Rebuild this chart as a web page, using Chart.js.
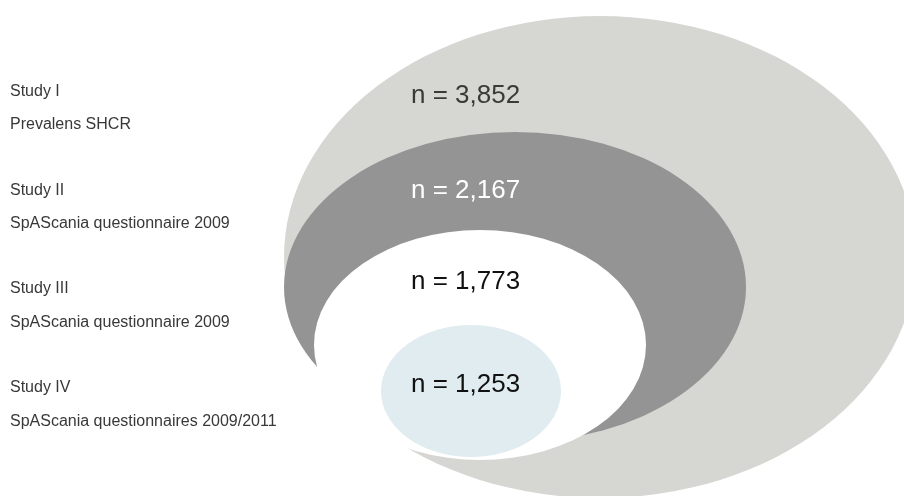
<!DOCTYPE html>
<html>
<head>
<meta charset="utf-8">
<script src="https://cdn.jsdelivr.net/npm/chart.js@4.4.1/dist/chart.umd.min.js"></script>
<style>
    body { margin: 0; background: #ffffff; }
    #wrap { width: 904px; height: 496px; position: relative; }
</style>
</head>
<body>
<div id="wrap"><canvas id="studyChart"></canvas></div>
<script>
// Data
var studies = ['Study I', 'Study II', 'Study III', 'Study IV'];
var sources = ['Prevalens SHCR', 'SpAScania questionnaire 2009', 'SpAScania questionnaire 2009', 'SpAScania questionnaires 2009/2011'];
var sampleSizes = [3852, 2167, 1773, 1253];

// Layout (axis units, axes run 0..904 and 0..496 top down)
var ellipseCenters = [[600, 257], [515, 287], [480, 345], [471, 391]];
var ellipseRadii = [[316, 241], [231, 155], [166, 115], [90, 66]];
var ellipseColors = ['#d6d7d2', '#949494', '#ffffff', '#e1ecf1'];
var nLabelPos = [[411, 103], [411, 198], [411, 289], [411, 392]];
var nLabelColors = ['#3b3b35', '#ffffff', '#111111', '#111111'];
var studyLabelY = [96, 195, 293, 392];
var sourceLabelY = [129, 228, 327, 426];

var datasets = [];
for (let i = 0; i < studies.length; i++) {
    datasets.push({
        label: studies[i],
        data: [{ x: ellipseCenters[i][0], y: ellipseCenters[i][1] }],
        backgroundColor: ellipseColors[i],
        pointRadius: 0
    });
}

//Draw each dataset point as an ellipse around it
var ellipsePlugin = {
    id: 'ellipses',
    beforeDatasetsDraw(chart) {
        const ctx = chart.ctx;
        const xs = chart.scales.x;
        const ys = chart.scales.y;
        chart.data.datasets.forEach(function(ds, i) {
            const pt = chart.getDatasetMeta(i).data[0];
            const rx = Math.abs(xs.getPixelForValue(ds.data[0].x + ellipseRadii[i][0]) - pt.x);
            const ry = Math.abs(ys.getPixelForValue(ds.data[0].y + ellipseRadii[i][1]) - pt.y);
            ctx.save();
            ctx.beginPath();
            ctx.ellipse(pt.x, pt.y, rx, ry, 0, 0, Math.PI * 2);
            ctx.fillStyle = ds.backgroundColor;
            ctx.fill();
            ctx.restore();
        });
    },
    afterDatasetsDraw(chart) {
        const ctx = chart.ctx;
        const xs = chart.scales.x;
        const ys = chart.scales.y;
        ctx.save();
        ctx.textBaseline = 'alphabetic';
        ctx.textAlign = 'left';

        // n = ... labels inside the ellipses
        ctx.font = '26px "Liberation Sans", Arial, sans-serif';
        for (let i = 0; i < sampleSizes.length; i++) {
            ctx.fillStyle = nLabelColors[i];
            ctx.fillText('n = ' + sampleSizes[i].toLocaleString('en-US'),
                xs.getPixelForValue(nLabelPos[i][0]), ys.getPixelForValue(nLabelPos[i][1]));
        }

        // study names on the left
        ctx.font = '16px "Liberation Sans", Arial, sans-serif';
        ctx.fillStyle = '#383838';
        for (let i = 0; i < studies.length; i++) {
            ctx.fillText(studies[i], xs.getPixelForValue(10), ys.getPixelForValue(studyLabelY[i]));
            ctx.fillText(sources[i], xs.getPixelForValue(10), ys.getPixelForValue(sourceLabelY[i]));
        }
        ctx.restore();
    }
};

new Chart(document.getElementById('studyChart'), {
    type: 'scatter',
    data: { datasets: datasets },
    options: {
        responsive: true,
        maintainAspectRatio: false,
        animation: false,
        layout: { padding: 0 },
        scales: {
            x: { type: 'linear', min: 0, max: 904, display: false },
            y: { type: 'linear', min: 0, max: 496, reverse: true, display: false }
        },
        plugins: {
            legend: { display: false },
            tooltip: { enabled: false }
        }
    },
    plugins: [ellipsePlugin]
});
</script>
</body>
</html>
